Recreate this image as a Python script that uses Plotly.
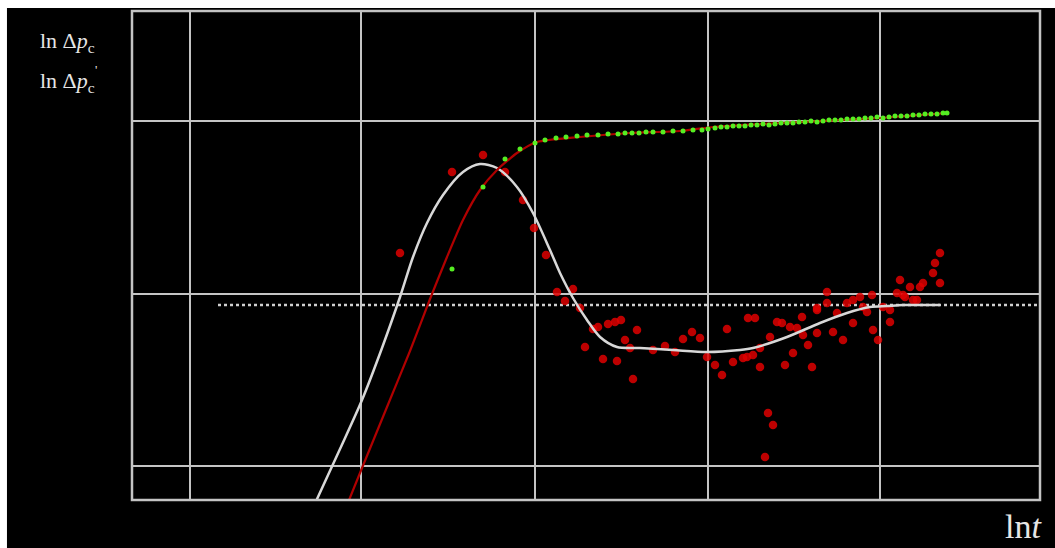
import plotly.graph_objects as go

# ---- data (arbitrary ln-units; grid lines at x=0,171,345,518,690 / y=0,172,345)
grid_x = [0, 171, 345, 518, 690]
grid_y = [0, 172, 345]
x_range = [-58, 850]
y_range = [-34, 455]

# model derivative curve (white)
deriv_model_x = [122, 150, 172, 192, 210, 223, 237, 253, 273, 290, 307, 327, 343, 360, 370, 383,
                 397, 410, 427, 450, 483, 517, 550, 563, 597, 630, 657, 680, 697, 713, 750]
deriv_model_y = [-44, 17, 66, 118, 169, 209, 243, 271, 294, 302, 298, 279, 253, 216, 193, 168,
                 146, 129, 119, 118, 116, 114, 116, 118, 129, 143, 153, 159, 160, 161, 161]

# model pressure curve (dark red)
press_model_x = [155, 172, 197, 220, 240, 257, 273, 290, 307, 327, 347, 390, 440, 490, 523, 590, 690, 757]
press_model_y = [-44, -2, 59, 115, 167, 209, 246, 276, 296, 313, 324, 329, 333, 335, 339, 343, 348, 353]

# measured pressure (green points)
press_x = [262, 293, 315, 330,
           345, 355, 366, 376, 387, 397, 408, 418, 428, 435, 442, 449, 456, 463, 473, 483, 493, 503, 512, 518,
           525, 531, 537, 543, 549, 555, 561, 567, 573, 579, 585, 591, 597, 603, 609, 615, 621, 627, 633, 639,
           645, 651, 657, 663, 669, 675, 681, 687, 693, 699, 705, 711, 717, 723, 729, 735, 741, 747, 753, 757]
press_y = [197, 279, 307, 317,
           323, 326, 328, 329, 330, 331, 331, 332, 332, 333, 333, 333, 334, 334, 334, 335, 335, 336, 336, 337,
           338, 339, 339, 340, 340, 340, 341, 341, 342, 341, 342, 343, 343, 343, 344, 344, 345, 344, 345, 346,
           346, 346, 347, 347, 347, 348, 348, 349, 348, 349, 350, 350, 350, 351, 351, 352, 352, 352, 353, 353]

# measured derivative (red points)
deriv_x = [210, 262, 293, 315, 333, 344, 356, 367, 375, 383, 390, 395, 403, 408, 418, 425, 431, 413, 427,
           435, 440, 447, 443, 463, 475, 485, 493, 502, 510, 517, 525, 532, 537, 543, 553, 558, 565, 563,
           570, 578, 583, 575, 570, 580, 587, 592, 600, 607, 595, 603, 612, 613, 618, 627, 622, 627, 637,
           637, 647, 643, 653, 663, 657, 663, 670, 673, 682, 683, 688, 693, 700, 707, 713, 710, 720, 723,
           730, 733, 750, 750, 745, 743, 727, 715, 700, 677, 557, 627]
deriv_y = [213, 294, 311, 294, 266, 238, 211, 174, 165, 177, 158, 119, 137, 139, 142, 144, 146, 107, 105,
           126, 118, 136, 87, 116, 120, 114, 127, 134, 128, 109, 101, 91, 137, 104, 108, 148, 148, 111,
           99, 53, 41, 9, 118, 129, 144, 143, 139, 138, 101, 113, 149, 131, 121, 133, 99, 156, 163,
           174, 153, 134, 126, 143, 163, 166, 169, 159, 171, 136, 126, 159, 144, 173, 171, 186, 179, 166,
           179, 183, 183, 213, 203, 193, 166, 169, 156, 154, 109, 158]

dotted_x = [28, 850]
dotted_y = [161, 161]

GRID = "#c4c4c4"
TXT = "#e6e6e6"

fig = go.Figure()
fig.add_trace(go.Scatter(x=dotted_x, y=dotted_y, mode="lines",
                         line=dict(color="#d0d0d0", width=2.5, dash="3px,3px"), hoverinfo="skip"))
fig.add_trace(go.Scatter(x=deriv_x, y=deriv_y, mode="markers",
                         marker=dict(color="rgba(222,0,0,0.85)", size=8.5, line=dict(width=0)), hoverinfo="skip"))
fig.add_trace(go.Scatter(x=deriv_model_x, y=deriv_model_y, mode="lines", line_shape="spline",
                         line=dict(color="#d8d8d8", width=2.5, smoothing=0.8), hoverinfo="skip"))
fig.add_trace(go.Scatter(x=press_model_x, y=press_model_y, mode="lines", line_shape="spline",
                         line=dict(color="#b00000", width=2.2, smoothing=0.6), hoverinfo="skip"))
fig.add_trace(go.Scatter(x=press_x, y=press_y, mode="markers",
                         marker=dict(color="#55ee22", size=5, line=dict(width=0)), hoverinfo="skip"))

axis_common = dict(showgrid=True, gridcolor=GRID, gridwidth=2, showticklabels=False, ticks="",
                   zeroline=False, showline=False, fixedrange=True)

fig.update_layout(
    width=1055, height=548,
    margin=dict(l=132, r=15, t=11, b=48),
    paper_bgcolor="black", plot_bgcolor="black",
    showlegend=False,
    xaxis=dict(range=x_range, tickvals=grid_x, **axis_common),
    yaxis=dict(range=y_range, tickvals=grid_y, **axis_common),
    shapes=[
        dict(type="rect", xref="paper", yref="paper", x0=0, x1=1, y0=0, y1=1,
             line=dict(color=GRID, width=2.5)),
        # white page edges
        dict(type="rect", xref="paper", yref="paper", x0=-0.2, x1=1.1, y0=1.0061, y1=1.1,
             line=dict(width=0), fillcolor="white"),
        dict(type="rect", xref="paper", yref="paper", x0=-0.2, x1=-0.1377, y0=-0.2, y1=1.1,
             line=dict(width=0), fillcolor="white"),
    ],
    annotations=[
        dict(xref="paper", yref="paper", x=-0.103, y=0.937, xanchor="left", yanchor="middle",
             text="ln Δ<i>p</i><sub>c</sub>", showarrow=False,
             font=dict(family="Liberation Serif", size=22, color=TXT)),
        dict(xref="paper", yref="paper", x=-0.103, y=0.855, xanchor="left", yanchor="middle",
             text="ln Δ<i>p</i><sub>c</sub>", showarrow=False,
             font=dict(family="Liberation Serif", size=22, color=TXT)),
        dict(xref="paper", yref="paper", x=-0.0425, y=0.88, xanchor="left", yanchor="middle",
             text="'", showarrow=False,
             font=dict(family="Liberation Serif", size=13, color=TXT)),
        dict(xref="paper", yref="paper", x=1.004, y=-0.055, xanchor="right", yanchor="middle",
             text="ln<i>t</i>", showarrow=False,
             font=dict(family="Liberation Serif", size=34, color=TXT)),
    ],
)

fig.write_html("out.html")
